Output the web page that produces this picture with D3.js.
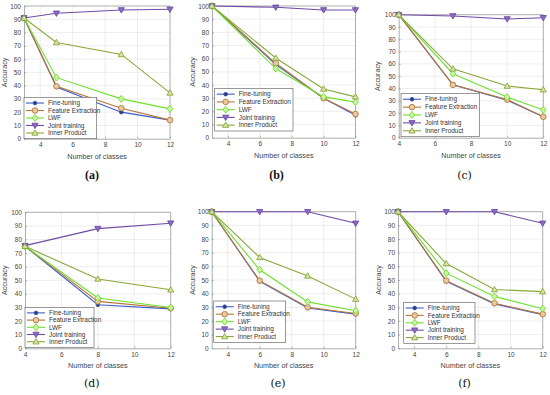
<!DOCTYPE html>
<html><head><meta charset="utf-8">
<script src="https://cdn.jsdelivr.net/npm/d3@7"></script>
<style>
html,body{margin:0;padding:0;background:#fff;}
svg{display:block;}
</style></head>
<body>
<svg id="chart" width="550" height="395"></svg>
<script>
// ---------- data ----------
const seriesNames = ["Fine-tuning", "Feature Extraction", "LWF", "Joint training", "Inner Product"];
const panelLabels = ["(a)", "(b)", "(c)", "(d)", "(e)", "(f)"];
const yTicks = [0, 10, 20, 30, 40, 50, 60, 70, 80, 90, 100];
const xTicks = [4, 6, 8, 10, 12];
const xDomains = [[3, 12], [3, 12], [4, 12], [4, 12], [3, 12], [3, 12]];

const classesA = [3, 5, 9, 12];
const fineTuningA = [91, 39, 20, 14];
const featureExtractionA = [91, 39.5, 23, 14];
const lwfA = [91, 46, 30, 22.5];
const jointTrainingA = [91, 94.5, 97, 97.5];
const innerProductA = [91, 72.5, 63.5, 34.5];

const classesB = [3, 7, 10, 12];
const fineTuningB = [100, 55.5, 30, 17];
const featureExtractionB = [100, 56.5, 30, 18];
const lwfB = [100, 52.5, 31, 27];
const jointTrainingB = [100, 99, 97, 97];
const innerProductB = [100, 60.5, 37, 31];

const classesC = [4, 7, 10, 12];
const fineTuningC = [100, 43, 30.5, 17];
const featureExtractionC = [100, 43, 31, 17];
const lwfC = [100, 52, 33, 22.5];
const jointTrainingC = [100, 99, 96.5, 97.5];
const innerProductC = [100, 56, 42, 39];

const classesD = [4, 8, 12];
const fineTuningD = [75, 32, 29];
const featureExtractionD = [75, 34.5, 29.5];
const lwfD = [75, 37, 30];
const jointTrainingD = [75.5, 88, 92];
const innerProductD = [75, 51, 43];

const classesE = [3, 6, 9, 12];
const fineTuningE = [100, 49, 29.5, 25];
const featureExtractionE = [100, 49.5, 30, 25.5];
const lwfE = [100, 57.5, 34, 27.5];
const jointTrainingE = [100, 100, 100, 91.5];
const innerProductE = [100, 66.5, 53, 36];

const classesF = [3, 6, 9, 12];
const fineTuningF = [100, 49, 32.5, 24.5];
const featureExtractionF = [100, 49.5, 33, 25];
const lwfF = [100, 55, 38, 29];
const jointTrainingF = [100, 100, 100, 91.5];
const innerProductF = [100, 62, 43, 41.5];

const panelData = [
  {x: classesA, s: [fineTuningA, featureExtractionA, lwfA, jointTrainingA, innerProductA]},
  {x: classesB, s: [fineTuningB, featureExtractionB, lwfB, jointTrainingB, innerProductB]},
  {x: classesC, s: [fineTuningC, featureExtractionC, lwfC, jointTrainingC, innerProductC]},
  {x: classesD, s: [fineTuningD, featureExtractionD, lwfD, jointTrainingD, innerProductD]},
  {x: classesE, s: [fineTuningE, featureExtractionE, lwfE, jointTrainingE, innerProductE]},
  {x: classesF, s: [fineTuningF, featureExtractionF, lwfF, jointTrainingF, innerProductF]}
];

// ---------- layout / style ----------
const layout = [
  {l: 24,    r: 170,   t: 6,     b: 138.7, leg: [24, 97.3, 72.7, 41.4],  yl: 5,   cap: [92, 175],   capStyle: "ab"},
  {l: 212,   r: 355.5, t: 6,     b: 137.7, leg: [214.7, 88.3, 78.3, 42.7], yl: 193, cap: [276.5, 175], capStyle: "ab"},
  {l: 398.7, r: 543.3, t: 14.7,  b: 137.7, leg: [401, 93.3, 78.3, 43.4], yl: 378, cap: [464.5, 175], capStyle: "cf"},
  {l: 25,    r: 170.7, t: 212.3, b: 348.3, leg: [25, 307.3, 69, 40],     yl: 5,   cap: [91.7, 383], capStyle: "cf"},
  {l: 211.7, r: 355.7, t: 211.7, b: 348.3, leg: [213.7, 301, 72, 41.3], yl: 193, cap: [278, 383],  capStyle: "cf"},
  {l: 398,   r: 542.7, t: 211.7, b: 348.3, leg: [403.7, 302.3, 71.3, 41], yl: 378.5, cap: [464.5, 383], capStyle: "cf"}
];
const colors = ["#3f5cc8", "#b5763a", "#6ee02c", "#6e4ba6", "#88a83a"];
const fills  = ["#2a3a70", "#e9c9a2", "#c9f5a4", "#8a6cc0", "#d9e3a8"];
const markers = ["dot", "circle", "diamond", "tridown", "triup"];

const svg = d3.select("#chart");
const FONT = "Liberation Sans, Arial, Helvetica, sans-serif";

function drawMarker(g, type, x, y, i) {
  const s = 2.8;
  let el;
  if (type === "dot") {
    g.append("circle").attr("cx", x).attr("cy", y).attr("r", 1.9).attr("fill", fills[i]).attr("stroke", colors[i]).attr("stroke-width", 0.8);
    return;
  }
  if (type === "circle") {
    el = g.append("circle").attr("cx", x).attr("cy", y).attr("r", s);
  } else if (type === "diamond") {
    el = g.append("path").attr("d", `M${x},${y - s * 1.25}L${x + s},${y}L${x},${y + s * 1.25}L${x - s},${y}Z`);
  } else if (type === "tridown") {
    el = g.append("path").attr("d", `M${x - s * 1.1},${y - s * 0.8}L${x + s * 1.1},${y - s * 0.8}L${x},${y + s * 1.1}Z`);
  } else {
    el = g.append("path").attr("d", `M${x - s * 1.1},${y + s * 0.8}L${x + s * 1.1},${y + s * 0.8}L${x},${y - s * 1.1}Z`);
  }
  el.attr("fill", fills[i]).attr("stroke", colors[i]).attr("stroke-width", 0.9);
}

layout.forEach((L, p) => {
  const D = panelData[p];
  const x = d3.scaleLinear().domain(xDomains[p]).range([L.l, L.r]);
  const y = d3.scaleLinear().domain([0, 100]).range([L.b, L.t]);
  const g = svg.append("g");

  // grid
  g.append("g").selectAll("line").data(xTicks.filter(t => t > xDomains[p][0] && t < xDomains[p][1])).join("line")
    .attr("x1", d => x(d)).attr("x2", d => x(d)).attr("y1", L.t).attr("y2", L.b)
    .attr("stroke", "#e3e3e3").attr("stroke-width", 0.6);
  g.append("g").selectAll("line").data(yTicks.filter(t => t > 0 && t < 100)).join("line")
    .attr("x1", L.l).attr("x2", L.r).attr("y1", d => y(d)).attr("y2", d => y(d))
    .attr("stroke", "#e3e3e3").attr("stroke-width", 0.6);

  // axes
  const xAxis = d3.axisBottom(x).tickValues(xTicks).tickSizeInner(-2).tickSizeOuter(0).tickPadding(4);
  const yAxis = d3.axisLeft(y).tickValues(yTicks).tickSizeInner(-2).tickSizeOuter(0).tickPadding(3);
  const gx = g.append("g").attr("transform", `translate(0,${L.b})`).call(xAxis);
  const gy = g.append("g").attr("transform", `translate(${L.l},0)`).call(yAxis);
  [gx, gy].forEach(a => {
    a.select(".domain").attr("stroke", "#8a8a8a").attr("stroke-width", 0.7);
    a.selectAll(".tick line").attr("stroke", "#8a8a8a").attr("stroke-width", 0.6);
    a.selectAll(".tick text").attr("fill", "#444").attr("font-family", FONT).attr("font-size", 6.5);
  });
  // box top/right
  g.append("line").attr("x1", L.l).attr("x2", L.r).attr("y1", L.t).attr("y2", L.t).attr("stroke", "#8a8a8a").attr("stroke-width", 0.7);
  g.append("line").attr("x1", L.r).attr("x2", L.r).attr("y1", L.t).attr("y2", L.b).attr("stroke", "#8a8a8a").attr("stroke-width", 0.7);

  // axis labels
  g.append("text").attr("x", (L.l + L.r) / 2).attr("y", L.b + 20)
    .attr("text-anchor", "middle").attr("font-family", FONT).attr("font-size", 7.2).attr("fill", "#444")
    .text("Number of classes");
  g.append("text").attr("transform", `translate(${L.yl + 2},${(L.t + L.b) / 2}) rotate(-90)`)
    .attr("text-anchor", "middle").attr("font-family", FONT).attr("font-size", 7.2).attr("fill", "#444")
    .text("Accuracy");

  // caption
  g.append("text").attr("x", L.cap[0]).attr("y", L.cap[1] + 4)
    .attr("text-anchor", "middle")
    .attr("font-family", L.capStyle === "ab" ? "Liberation Serif, Times New Roman, serif" : "DejaVu Serif, serif")
    .attr("font-weight", L.capStyle === "ab" ? "bold" : "normal")
    .attr("font-size", L.capStyle === "ab" ? 12 : 11)
    .attr("fill", "#111")
    .text(panelLabels[p]);

  // series
  const line = d3.line().x(d => x(d[0])).y(d => y(d[1]));
  D.s.forEach((vals, i) => {
    const pts = D.x.map((c, k) => [c, vals[k]]);
    g.append("path").attr("d", line(pts)).attr("fill", "none").attr("stroke", colors[i]).attr("stroke-width", 1.1);
    const mg = g.append("g");
    pts.forEach(pt => drawMarker(mg, markers[i], x(pt[0]), y(pt[1]), i));
  });

  // legend
  const [lx, ly, lw, lh] = L.leg;
  const lg = g.append("g");
  lg.append("rect").attr("x", lx).attr("y", ly).attr("width", lw).attr("height", lh)
    .attr("fill", "#fff").attr("stroke", "#555").attr("stroke-width", 0.6);
  const step = (lh - 4) / seriesNames.length;
  seriesNames.forEach((name, i) => {
    const cy = ly + 2 + step * (i + 0.5);
    lg.append("line").attr("x1", lx + 2).attr("x2", lx + 20).attr("y1", cy).attr("y2", cy)
      .attr("stroke", colors[i]).attr("stroke-width", 1.1);
    drawMarker(lg, markers[i], lx + 11, cy, i);
    lg.append("text").attr("x", lx + 24).attr("y", cy).attr("dy", "0.35em")
      .attr("font-family", FONT).attr("font-size", 6.4).attr("fill", "#333").text(name);
  });
});
</script>
</body></html>
